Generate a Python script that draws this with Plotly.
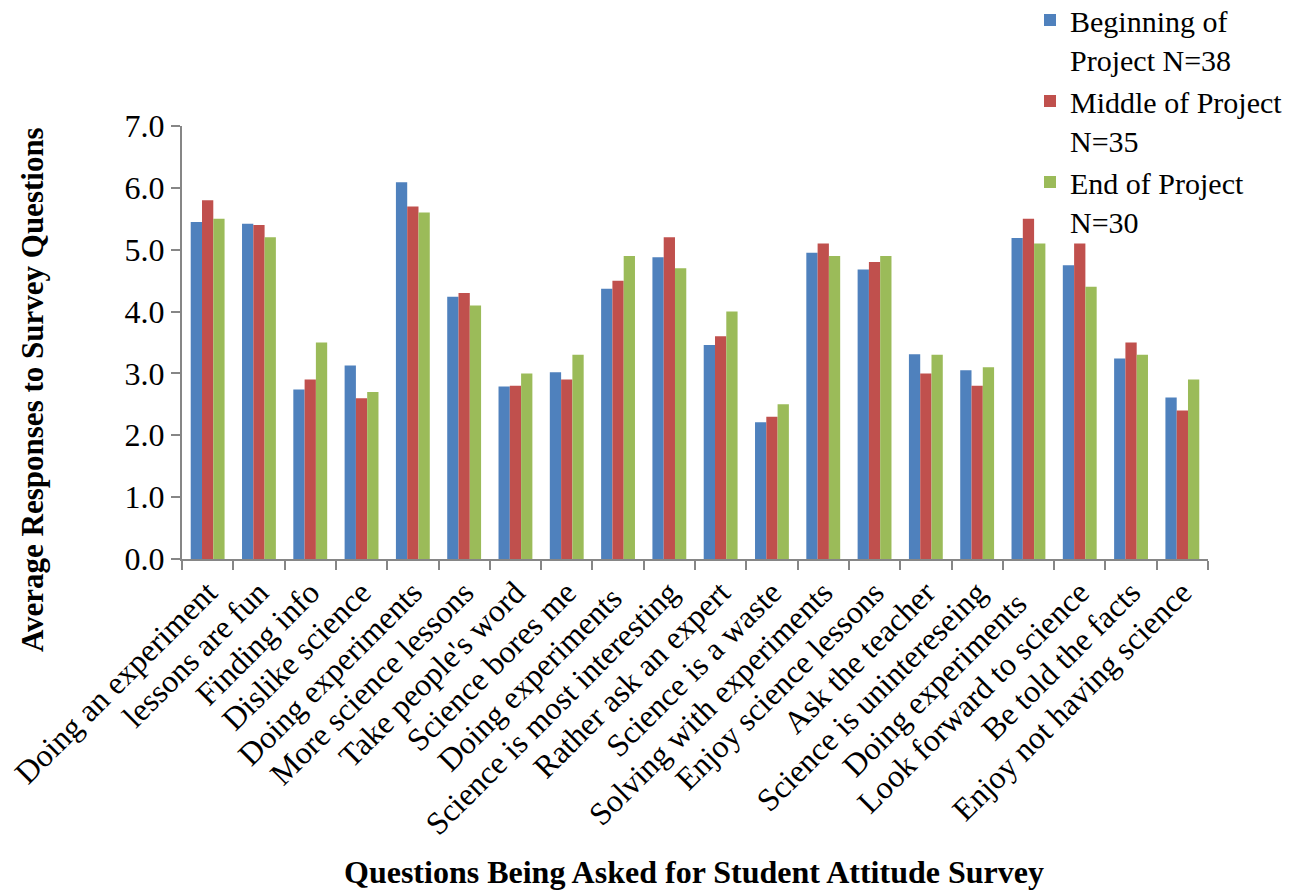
import plotly.graph_objects as go

# Survey question labels (x categories)
questions = [
    "Doing an experiment", "lessons are fun", "Finding info", "Dislike science",
    "Doing experiments", "More science lessons", "Take people's word",
    "Science bores me", "Doing experiments ", "Science is most interesting",
    "Rather ask an expert", "Science is a waste", "Solving with experiments",
    "Enjoy science lessons", "Ask the teacher", "Science is unintereseing",
    "Doing experiments  ", "Look forward to science", "Be told the facts",
    "Enjoy not having science",
]

# Average responses per survey round
beginning = [5.45, 5.42, 2.74, 3.13, 6.09, 4.24, 2.79, 3.02, 4.37, 4.88,
             3.46, 2.21, 4.95, 4.68, 3.31, 3.05, 5.19, 4.75, 3.24, 2.61]
middle = [5.8, 5.4, 2.9, 2.6, 5.7, 4.3, 2.8, 2.9, 4.5, 5.2,
          3.6, 2.3, 5.1, 4.8, 3.0, 2.8, 5.5, 5.1, 3.5, 2.4]
end = [5.5, 5.2, 3.5, 2.7, 5.6, 4.1, 3.0, 3.3, 4.9, 4.7,
       4.0, 2.5, 4.9, 4.9, 3.3, 3.1, 5.1, 4.4, 3.3, 2.9]

series_names = ["Beginning of<br>Project N=38", "Middle of Project<br>N=35",
                "End of Project<br>N=30"]
series_colors = ["#4F81BD", "#C0504D", "#9BBB59"]

FONT = "Liberation Serif, Times New Roman, serif"

fig = go.Figure()
for name, vals, color in zip(series_names, [beginning, middle, end], series_colors):
    fig.add_trace(go.Bar(
        x=questions, y=vals, name=name,
        marker=dict(color=color, line=dict(width=0)),
    ))

fig.update_layout(
    width=1310, height=892,
    margin=dict(l=182, r=102, t=126, b=333, pad=0, autoexpand=False),
    paper_bgcolor="white", plot_bgcolor="white",
    barmode="group", bargap=0.34, bargroupgap=0.0,
    font=dict(family=FONT, size=32, color="black"),
    showlegend=True,
    legend=dict(
        xref="container", yref="paper",
        x=1030 / 1310, y=(559 + 6) / 433, xanchor="left", yanchor="top",
        font=dict(family=FONT, size=30, color="black"),
        itemwidth=30, valign="top", tracegroupgap=0,
        bgcolor="rgba(0,0,0,0)", borderwidth=0,
    ),
    xaxis=dict(
        type="category", tickangle=-45, tickson="boundaries",
        ticks="outside", ticklen=9, tickcolor="#868686", tickwidth=2,
        showline=True, linecolor="#868686", linewidth=2,
        showgrid=False, tickfont=dict(family=FONT, size=32),
    ),
    yaxis=dict(
        range=[0, 7], dtick=1, tickformat=".1f",
        ticks="outside", ticklen=9, tickcolor="#868686", tickwidth=2,
        showline=True, linecolor="#868686", linewidth=2,
        showgrid=False, zeroline=False, tickfont=dict(family=FONT, size=32),
    ),
    annotations=[
        dict(text="<b>Average Responses to Survey Questions</b>",
             xref="paper", yref="paper", x=(32 - 182) / 1026, y=(559 - 390) / 433,
             xanchor="center", yanchor="middle", textangle=-90, showarrow=False,
             font=dict(family=FONT, size=31, color="black")),
        dict(text="<b>Questions Being Asked for Student Attitude Survey</b>",
             xref="paper", yref="paper", x=0.499, y=(559 - 872) / 433,
             xanchor="center", yanchor="middle", showarrow=False,
             font=dict(family=FONT, size=32, color="black")),
    ],
)

fig.write_html("out.html")
